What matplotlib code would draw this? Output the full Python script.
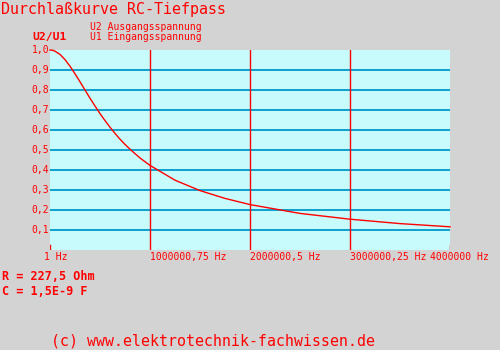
import matplotlib
matplotlib.use("Agg")
import matplotlib.pyplot as plt
import matplotlib.transforms as mtransforms

# Werte (Frequenz in Hz, Verhaeltnis U2/U1)
freq = [0, 2.5e4, 5e4, 1e5, 1.5e5, 2e5, 2.5e5, 3e5, 3.5e5, 4e5, 4.5e5, 5e5,
        5.5e5, 6e5, 6.5e5, 7e5, 7.5e5, 8e5, 9e5, 1e6,
        1.25e6, 1.5e6, 1.75e6, 2e6, 2.5e6, 3e6, 3.5e6, 4e6]
ratio = [1.0, 0.999, 0.994, 0.978, 0.952, 0.919, 0.881, 0.841, 0.800, 0.759, 0.720, 0.682,
         0.647, 0.614, 0.583, 0.554, 0.528, 0.504, 0.460, 0.423,
         0.349, 0.297, 0.258, 0.227, 0.183, 0.154, 0.132, 0.116]

y_ticks = [0.1, 0.2, 0.3, 0.4, 0.5, 0.6, 0.7, 0.8, 0.9, 1.0]
y_labels = ["0,1", "0,2", "0,3", "0,4", "0,5", "0,6", "0,7", "0,8", "0,9", "1,0"]
x_ticks = [0, 1e6, 2e6, 3e6, 4e6]
x_labels = ["1 Hz", "1000000,75 Hz", "2000000,5 Hz", "3000000,25 Hz", "4000000 Hz"]
x_shift = [-6, 0, 0, 0, -20]  # pixel offset of the labels

RED = "#ff0000"
BLUE = "#0099cc"
BG = "#d3d3d3"
PLOT_BG = "#c8fcfc"
MONO = "DejaVu Sans Mono"

W, H = 500, 350
fig = plt.figure(figsize=(W / 100, H / 100), dpi=100, facecolor=BG)
ax = fig.add_axes([50 / W, 100 / H, 400 / W, 200 / H])
ax.set_facecolor(PLOT_BG)
ax.set_xlim(0, 4e6)
ax.set_ylim(0, 1.0)
for s in ax.spines.values():
    s.set_visible(False)
ax.set_xticks([])
ax.set_yticks([])

# Gitter
for y in y_ticks[:-1]:
    ax.axhline(y, color=BLUE, lw=1.3)
for x in x_ticks[1:-1]:
    ax.axvline(x, color=RED, lw=1)
for x in [x_ticks[0], x_ticks[-1]]:
    ax.axvline(x, ymin=0, ymax=0.025, color=RED, lw=1)

ax.plot(freq, ratio, color=RED, lw=1, clip_on=False)

# Achsenbeschriftung
trans_y = mtransforms.blended_transform_factory(fig.transFigure, ax.transData)
for y, lab in zip(y_ticks, y_labels):
    ax.text(49 / W, y, lab, transform=trans_y, ha="right", va="center",
            color=RED, family=MONO, fontsize=7)

trans_x = mtransforms.blended_transform_factory(ax.transData, fig.transFigure)
for x, lab, dx in zip(x_ticks, x_labels, x_shift):
    t = mtransforms.offset_copy(trans_x, fig=fig, x=dx, y=0, units="dots")
    ax.text(x, 1 - 260 / H, lab, transform=t, ha="left", va="baseline",
            color=RED, family=MONO, fontsize=7)

def ftext(x, y, s, size, weight="normal"):
    fig.text(x / W, 1 - y / H, s, ha="left", va="baseline", color=RED,
             family=MONO, fontsize=size, fontweight=weight)

ftext(1, 14, "Durchlaßkurve RC-Tiefpass", 10.8)
ftext(90, 30, "U2 Ausgangsspannung", 7)
ftext(90, 40, "U1 Eingangsspannung", 7)
ftext(32, 40, "U2/U1", 8.2, "bold")
ftext(2, 279.5, "R = 227,5 Ohm", 8.5, "bold")
ftext(2, 295, "C = 1,5E-9 F", 8.5, "bold")
ftext(51, 346, "(c) www.elektrotechnik-fachwissen.de", 10.7)

fig.savefig("out.png", dpi=100, facecolor=BG)
